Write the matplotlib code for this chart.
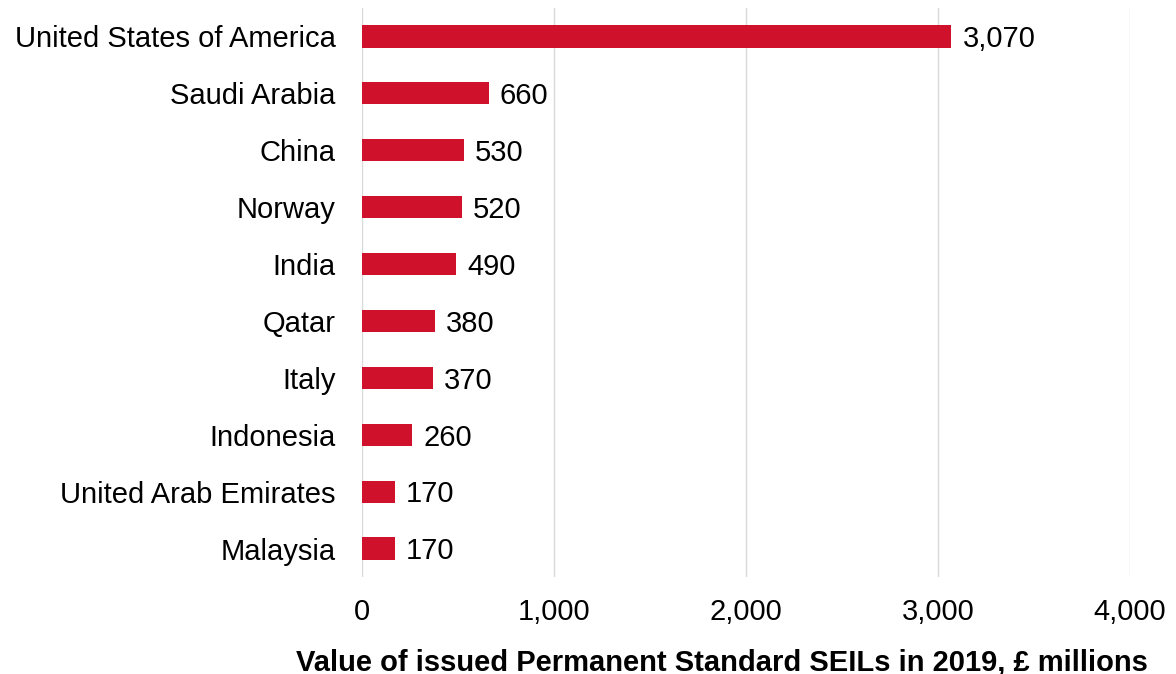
import numpy as np
import matplotlib.pyplot as plt

countries = ['United States of America', 'Saudi Arabia', 'China', 'Norway', 'India',
             'Qatar', 'Italy', 'Indonesia', 'United Arab Emirates', 'Malaysia']
values = [3070, 660, 530, 520, 490, 380, 370, 260, 170, 170]
xticks = [0, 1000, 2000, 3000, 4000]

plt.rcParams['font.family'] = ['Liberation Sans', 'DejaVu Sans']

fig = plt.figure(figsize=(11.76, 6.74), dpi=100)
ax = fig.add_axes([362/1176, 1-577/674, 768/1176, 569/674])

y = np.arange(len(countries))
ax.barh(y, values, height=0.39, color='#D0112B', zorder=3)
for yi, v in zip(y, values):
    ax.annotate(f'{v:,}', (v, yi), xytext=(8, -2), textcoords='offset points',
                ha='left', va='center', fontsize=21, color='black')

ax.set_ylim(len(countries) - 0.5, -0.5)
ax.set_yticks(y)
ax.set_yticklabels(countries, fontsize=21)
ax.set_xlim(0, 4000)
ax.set_xticks(xticks)
ax.set_xticklabels([f'{t:,}' for t in xticks], fontsize=21)
ax.tick_params(axis='y', length=0, pad=19)
ax.tick_params(axis='x', length=0, pad=15)
ax.grid(axis='x', color='#D9D9D9', linewidth=1, zorder=0)
for s in ax.spines.values():
    s.set_visible(False)
ax.set_xlabel('Value of issued Permanent Standard SEILs in 2019, £ millions',
              fontsize=21, fontweight='bold', labelpad=14)
ax.xaxis.set_label_coords(0.469, -0.125)

fig.savefig('out.png', dpi=100)
